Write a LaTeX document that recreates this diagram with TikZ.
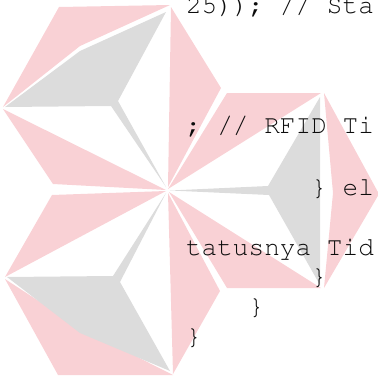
\documentclass[tikz,border=0pt]{standalone}
\usepackage{fontspec}
\newcommand\codefont{\fontencoding{T1}\fontfamily{pcr}\fontseries{m}\fontshape{n}}
\definecolor{logopink}{RGB}{249,209,213}
\definecolor{logogrey}{RGB}{220,220,220}
\definecolor{codeink}{RGB}{12,12,12}
\begin{document}
\begin{tikzpicture}[x=1pt,y=-1pt,
  petal/.style={fill=logopink,draw=none},
  face/.style={fill=logogrey,draw=none},
  code/.style={anchor=base west,inner sep=0pt,outer sep=0pt,text=codeink,
    font=\codefont\fontsize{26.1pt}{30pt}\selectfont}]
\useasboundingbox (0,0) rectangle (378,381);
\clip (0,0) rectangle (378,381);
% upper-left hexagon
\fill[petal] (3,107) -- (59,7) -- (170,5) -- (80,46) -- cycle;
\fill[petal] (171,7) -- (221,88) -- (168,187) -- cycle;
\fill[petal] (3,109) -- (53,184) -- (166,190) -- cycle;
\fill[face] (5,107) -- (80,51) -- (166,12) -- (118,101) -- (166,187) -- (111,106) -- cycle;
% lower-left hexagon
\fill[petal] (166,191) -- (52,195) -- (5,277) -- cycle;
\fill[petal] (5,279) -- (58,375) -- (173,375) -- (80,328) -- cycle;
\fill[petal] (168,193) -- (220,291) -- (173,374) -- cycle;
\fill[face] (7,277) -- (113,276) -- (166,193) -- (120,282) -- (170,371) -- (80,333) -- cycle;
% right hexagon
\fill[petal] (168,189) -- (227,93) -- (321,93) -- cycle;
\fill[petal] (324,93) -- (379,194) -- (324,288) -- (333,193) -- cycle;
\fill[petal] (169,192) -- (227,288) -- (321,288) -- cycle;
\fill[face] (320,97) -- (268,186) -- (170,190.5) -- (269,195) -- (320,285) -- cycle;
% code text
\node[code] (l1) at (186,13.5) {25)); // Sta};
\node[code] (l2) at (186,133) {; // RFID Ti};
\node[code] (l3) at (311.3,195) {\} el};
\node[code] (l4) at (186,255) {tatusnya Tid};
\node[code] (l5) at (311.3,284) {\}};
\node[code] (l6) at (248.6,314) {\}};
\node[code] (l7) at (186,344) {\}};
\end{tikzpicture}
\end{document}
